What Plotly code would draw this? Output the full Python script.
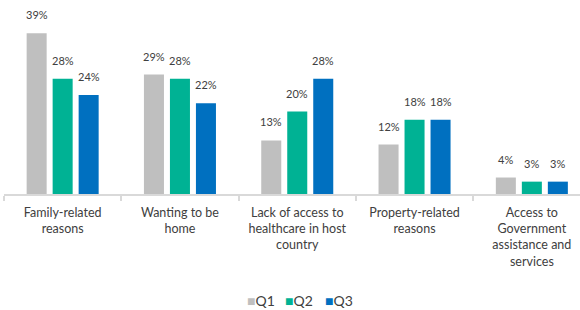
import plotly.graph_objects as go

categories = [
    "Family-related<br>reasons",
    "Wanting to be<br>home",
    "Lack of access to<br>healthcare in host<br>country",
    "Property-related<br>reasons",
    "Access to<br>Government<br>assistance and<br>services",
]
series_names = ["Q1", "Q2", "Q3"]
q1 = [39, 29, 13, 12, 4]
q2 = [28, 28, 20, 18, 3]
q3 = [24, 22, 28, 18, 3]
values = [q1, q2, q3]
colors = ["#BFBFBF", "#00B294", "#0070C0"]

FONT = "Lato, 'Open Sans', sans-serif"

fig = go.Figure()
for name, vals, col in zip(series_names, values, colors):
    fig.add_trace(go.Bar(
        x=categories, y=vals, name=name, showlegend=False,
        marker=dict(color=col, line=dict(width=0)),
    ))

# legend entries (one legend per series, compact square + label)
legend_ids = ["legend", "legend2", "legend3"]
for name, col, lid in zip(series_names, colors, legend_ids):
    fig.add_trace(go.Scatter(
        x=[None], y=[None], mode="lines", line=dict(width=0, color=col),
        name=f"<span style='color:{col}'>■</span>{name}", legend=lid,
        showlegend=True, hoverinfo="skip",
    ))

# value labels above bars
offsets = [-26, 0, 26]
annotations = []
for vals, dx in zip(values, offsets):
    for cat, v in zip(categories, vals):
        annotations.append(dict(
            x=cat, y=v, xref="x", yref="y", text=f"{v}%", showarrow=False,
            xshift=dx, yshift=10, yanchor="bottom",
            font=dict(family=FONT, size=11, color="#404040"),
        ))

W, H = 580, 310
L, R, T, B = 4, 0, 20, 116
cat_px = 117.3
plot_w = W - L - R
x_hi = -0.5 + plot_w / cat_px
plot_h = H - T - B
px_per_unit = 4.12

legend_common = dict(
    orientation="h", xref="container", xanchor="left",
    yref="container", yanchor="middle", y=0.03,
    font=dict(family=FONT, size=14, color="#404040"),
    itemwidth=30, bgcolor="rgba(0,0,0,0)", borderwidth=0,
)
legend_x = [207 / W, 245 / W, 285 / W]

fig.update_layout(
    width=W, height=H,
    margin=dict(l=L, r=R, t=T, b=B, pad=0, autoexpand=False),
    paper_bgcolor="white", plot_bgcolor="white",
    barmode="group", bargap=0.335, bargroupgap=0.23,
    font=dict(family=FONT, color="#404040"),
    annotations=annotations,
    showlegend=True,
    legend=dict(legend_common, x=legend_x[0]),
    legend2=dict(legend_common, x=legend_x[1]),
    legend3=dict(legend_common, x=legend_x[2]),
    xaxis=dict(
        type="category",
        range=[-0.5, x_hi],
        tickson="boundaries",
        showline=True, linecolor="#D9D9D9", linewidth=1.5,
        ticks="outside", ticklen=5, tickcolor="#D9D9D9", tickwidth=1.5,
        ticklabelstandoff=6,
        showgrid=False, zeroline=False,
        tickfont=dict(family=FONT, size=12.5, color="#404040"),
        fixedrange=True,
    ),
    yaxis=dict(
        range=[0, plot_h / px_per_unit],
        visible=False, showgrid=False, zeroline=False, fixedrange=True,
    ),
)

fig.write_html(
    "out.html",
    config={"displayModeBar": False},
    post_script="document.body.style.margin='0';document.body.style.overflow='hidden';",
)
